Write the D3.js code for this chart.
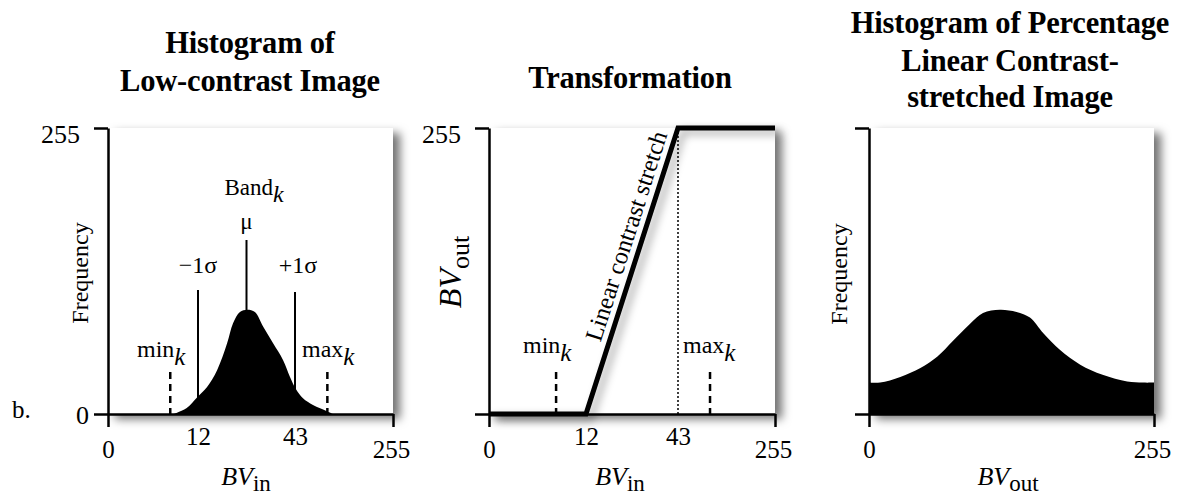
<!DOCTYPE html>
<html>
<head>
<meta charset="utf-8">
<script src="https://cdn.jsdelivr.net/npm/d3@7"></script>
<style>
  body { margin: 0; background: #fff; }
  svg text { font-family: "Liberation Serif", "Times New Roman", serif; fill: #000; }
</style>
</head>
<body>
<div id="container"></div>
<script>
/* DATA */
const bvTicks = [0, 12, 43, 255];
const freqTicks = [0, 255];

// histogram of the low-contrast image (BV_in, frequency)
const lowBV   = [8.7, 9.2, 10.5, 11.9, 14.9, 18.1, 21.3, 23.2, 25.4, 27.7, 30.2, 32.8, 36.0, 39.2, 41.4, 45.2, 60.3, 81.9, 112, 125];
const lowFreq = [0, 1.2, 5.4, 15, 24, 39, 63, 81, 91, 93, 91, 78, 63, 48, 33, 22, 14, 8, 2.5, 0];

// transformation function
const transIn  = [0, 12, 43, 255];
const transOut = [0, 0, 255, 255];

// histogram after the stretch (BV_out, frequency)
const outBV   = [0, 10, 28, 46, 61, 75, 90, 102, 117, 132, 144, 156, 171, 189, 209, 231, 245, 255];
const outFreq = [28, 28, 33, 41, 51, 65, 80, 90, 93, 91, 86, 72, 57, 44, 35, 29, 28, 28];

// statistics markers on BV_in
const minK = 8.3, maxK = 113, mu = 27.5, sigmaLo = 12, sigmaHi = 43;

const titles = [
  ["Histogram of", "Low-contrast Image"],
  ["Transformation"],
  ["Histogram of Percentage", "Linear Contrast-", "stretched Image"]
];

/* LAYOUT */
const width = 1180, height = 498;
const yS = d3.scaleLinear().domain([0, 255]).range([414, 128]);

// schematic (piecewise) BV axes, as in the figure
const xLow = d3.scaleLinear().domain(bvTicks).range([108, 198, 295, 393]);
const xMid = d3.scaleLinear().domain(bvTicks).range([489, 586, 678, 775]);
const xOut = d3.scaleLinear().domain([0, 255]).range([869, 1154]);

const svg = d3.select("#container").append("svg")
  .attr("width", width).attr("height", height);

const defs = svg.append("defs");
defs.append("filter").attr("id", "shadow")
  .attr("x", "-20%").attr("y", "-20%").attr("width", "150%").attr("height", "150%")
  .append("feDropShadow")
  .attr("dx", 7).attr("dy", 5).attr("stdDeviation", 5)
  .attr("flood-color", "#000").attr("flood-opacity", 0.55);
defs.append("filter").attr("id", "lineShadow")
  .attr("x", "-30%").attr("y", "-30%").attr("width", "160%").attr("height", "160%")
  .append("feDropShadow")
  .attr("dx", 5).attr("dy", 4).attr("stdDeviation", 4)
  .attr("flood-color", "#000").attr("flood-opacity", 0.35);

// panel background + axes
function frame(x, xTicks, yLabels) {
  const [x0, x1] = [x.range()[0], x.range()[x.range().length - 1]];
  svg.append("rect")
    .attr("x", x0).attr("y", yS(255))
    .attr("width", x1 - x0).attr("height", yS(0) - yS(255))
    .attr("fill", "#fff").attr("filter", "url(#shadow)");

  const gx = svg.append("g")
    .attr("transform", `translate(0,${yS(0)})`)
    .call(d3.axisBottom(x).tickValues(xTicks).tickSize(13).tickSizeOuter(0));
  gx.select(".domain").attr("stroke-width", 2.5);
  gx.selectAll(".tick line").attr("stroke-width", 2.5)
    .attr("display", d => (d === 0 || d === 255) ? null : "none");
  gx.selectAll(".tick text")
    .attr("font-size", 25).attr("font-family", "Liberation Serif")
    .attr("dy", null)
    .attr("y", d => (d === 0 || d === 255) ? 44 : 31)
    .attr("x", d => d === 255 ? -2 : 0);

  const gy = svg.append("g")
    .attr("transform", `translate(${x0},0)`)
    .call(d3.axisLeft(yS).tickValues(freqTicks).tickSize(14).tickSizeOuter(0)
      .tickFormat(d => yLabels.includes(d) ? d : ""));
  gy.select(".domain").attr("stroke-width", 2.5);
  gy.selectAll(".tick line").attr("stroke-width", 2.5);
  gy.selectAll(".tick text")
    .attr("font-size", 26).attr("font-family", "Liberation Serif")
    .attr("dy", d => d === 255 ? "0.55em" : "0.35em")
    .attr("x", d => d === 255 ? -28 : -19);
}

function subText(g, parts) {
  const t = g.append("text");
  parts.forEach(p => {
    t.append("tspan")
      .text(p.t)
      .attr("font-size", p.size)
      .attr("font-style", p.italic ? "italic" : null)
      .attr("dy", p.dy || 0);
  });
  return t;
}

function bvLabel(cx, sub, rotate, big) {
  const g = svg.append("g").attr("transform", rotate
    ? `translate(${cx[0]},${cx[1]}) rotate(-90)`
    : `translate(${cx[0]},${cx[1]})`);
  subText(g, [
    { t: "BV", size: big ? 32 : 26, italic: true },
    { t: sub, size: big ? 26 : 23, dy: big ? 8 : 6 }
  ]).attr("text-anchor", "middle");
}

function kLabel(x, y, word) {
  const g = svg.append("g").attr("transform", `translate(${x},${y})`);
  subText(g, [
    { t: word, size: 24 },
    { t: "k", size: 25, italic: true, dy: 8 }
  ]);
}

function dashed(x) {
  svg.append("line")
    .attr("x1", x).attr("x2", x).attr("y1", 372).attr("y2", yS(0))
    .attr("stroke", "#000").attr("stroke-width", 2.5).attr("stroke-dasharray", "7,5");
}

/* TITLES */
const titleX = [250, 630, 1010];
const titleY = [[53, 91], [88], [33, 71, 107]];
titles.forEach((lines, i) => {
  lines.forEach((s, j) => {
    svg.append("text")
      .attr("x", titleX[i]).attr("y", titleY[i][j])
      .attr("text-anchor", "middle")
      .attr("font-size", 30.5).attr("font-weight", "bold")
      .attr("letter-spacing", -0.2)
      .text(s);
  });
});

/* PANEL 1: low-contrast histogram */
frame(xLow, bvTicks, [0, 255]);

const area = (x) => d3.area()
  .x(d => x(d[0])).y0(yS(0)).y1(d => yS(d[1]))
  .curve(d3.curveCatmullRom.alpha(0.5));

svg.append("path")
  .datum(d3.zip(lowBV, lowFreq))
  .attr("d", area(xLow))
  .attr("fill", "#000");

// sigma / mean lines
[[sigmaLo, 290], [mu, 240], [sigmaHi, 292]].forEach(([v, y1]) => {
  svg.append("line")
    .attr("x1", xLow(v)).attr("x2", xLow(v))
    .attr("y1", y1).attr("y2", yS(0))
    .attr("stroke", "#000").attr("stroke-width", 2);
});
dashed(xLow(minK));
dashed(xLow(maxK));

svg.append("text").attr("x", xLow(sigmaLo)).attr("y", 273)
  .attr("text-anchor", "middle").attr("font-size", 24).text("\u22121\u03c3");
svg.append("text").attr("x", xLow(sigmaHi) + 3).attr("y", 273)
  .attr("text-anchor", "middle").attr("font-size", 24).text("+1\u03c3");
svg.append("text").attr("x", xLow(mu)).attr("y", 229)
  .attr("text-anchor", "middle").attr("font-size", 23).text("\u03bc");
{
  const g = svg.append("g").attr("transform", `translate(${xLow(mu) - 22},195)`);
  subText(g, [{ t: "Band", size: 23 }, { t: "k", size: 24, italic: true, dy: 7 }]);
}
kLabel(137, 357, "min");
kLabel(302, 357, "max");

svg.append("text").attr("transform", "translate(88,273) rotate(-90)")
  .attr("text-anchor", "middle").attr("font-size", 24).text("Frequency");
svg.append("text").attr("x", 12).attr("y", 418).attr("font-size", 25).text("b.");
bvLabel([246, 485], "in");

/* PANEL 2: transformation */
frame(xMid, bvTicks, [255]);

svg.append("line")
  .attr("x1", xMid(43)).attr("x2", xMid(43)).attr("y1", yS(255)).attr("y2", yS(0))
  .attr("stroke", "#000").attr("stroke-width", 1.5).attr("stroke-dasharray", "2,2");
dashed(xMid(minK));
dashed(xMid(maxK));

svg.append("path")
  .datum(d3.zip(transIn, transOut))
  .attr("d", d3.line().x(d => xMid(d[0])).y(d => yS(d[1])))
  .attr("fill", "none").attr("stroke", "#000").attr("stroke-width", 5)
  .attr("stroke-linejoin", "miter")
  .attr("filter", "url(#lineShadow)");

{
  // label along the ramp
  const p0 = [xMid(transIn[1]), yS(transOut[1])];
  const p1 = [xMid(transIn[2]), yS(transOut[2])];
  const ang = Math.atan2(p1[1] - p0[1], p1[0] - p0[0]) * 180 / Math.PI;
  const t = 0.605;
  const px = p0[0] + (p1[0] - p0[0]) * t, py = p0[1] + (p1[1] - p0[1]) * t;
  svg.append("text")
    .attr("transform", `translate(${px},${py}) rotate(${ang})`)
    .attr("text-anchor", "middle").attr("dy", -8)
    .attr("font-size", 24.5).text("Linear contrast stretch");
}
kLabel(523, 353, "min");
kLabel(683, 353, "max");

bvLabel([461, 272], "out", true, true);
bvLabel([620, 485], "in");

/* PANEL 3: stretched histogram */
frame(xOut, [0, 255], []);

svg.append("path")
  .datum(d3.zip(outBV, outFreq))
  .attr("d", area(xOut))
  .attr("fill", "#000");

svg.append("text").attr("transform", "translate(847,274) rotate(-90)")
  .attr("text-anchor", "middle").attr("font-size", 24).text("Frequency");
bvLabel([1008, 485], "out");
</script>
</body>
</html>
